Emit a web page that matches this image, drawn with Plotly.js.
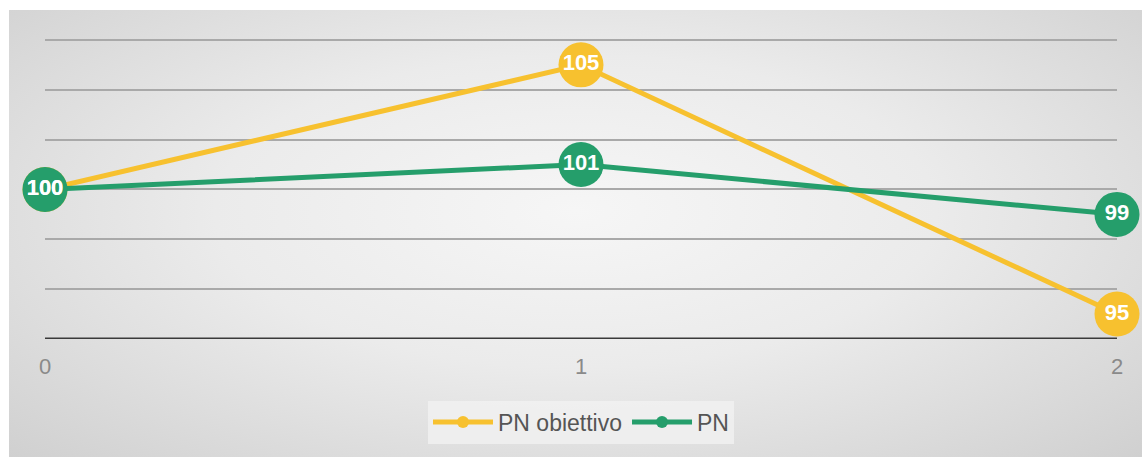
<!DOCTYPE html>
<html>
<head>
<meta charset="utf-8">
<script src="https://cdn.plot.ly/plotly-3.0.1.min.js"></script>
<style>
  html, body { margin:0; padding:0; background:#ffffff; }
  #wrap { position:relative; width:1142px; height:457px; overflow:hidden; }
  #bg { position:absolute; left:9px; top:10px; width:1133px; height:447px;
        background: radial-gradient(ellipse at 50% 45%, #f6f6f6 0%, #ebebeb 45%, #d0d0d0 100%); }
  #chart { position:absolute; left:0; top:0; width:1142px; height:457px; }
</style>
</head>
<body>
<div id="wrap"><div id="bg"></div><div id="chart"></div></div>
<script>
const categories = [0, 1, 2];
const pnObiettivo = [100, 105, 95];
const pn = [100, 101, 99];
const seriesNames = ["PN obiettivo", "PN"];
const xTickLabels = ["0", "1", "2"];

const yellow = "#F7C12F";
const green = "#259E6B";

function lineTrace(name, y, color) {
  return {
    x: categories, y: y, name: name, type: "scatter", mode: "lines+markers",
    line: { color: color, width: 5 },
    marker: { color: color, size: 45, line: { width: 0 } },
    cliponaxis: false, hoverinfo: "skip"
  };
}
function labelTrace(y) {
  return {
    x: categories, y: y, type: "scatter", mode: "text", showlegend: false,
    text: y.map(v => String(v)), textposition: "middle center",
    textfont: { family: "Liberation Sans, Arial, sans-serif", size: 22, color: "#ffffff", weight: "bold" },
    cliponaxis: false, hoverinfo: "skip"
  };
}

const data = [
  lineTrace(seriesNames[0], pnObiettivo, yellow),
  lineTrace(seriesNames[1], pn, green),
  labelTrace(pnObiettivo),
  labelTrace(pn)
];

const layout = {
  width: 1142, height: 457,
  paper_bgcolor: "rgba(0,0,0,0)", plot_bgcolor: "rgba(0,0,0,0)",
  margin: { l: 45, r: 25, t: 15, b: 118 },
  font: { family: "Liberation Sans, Arial, sans-serif", color: "#666666" },
  xaxis: {
    range: [0, 2], tickvals: categories, ticktext: xTickLabels,
    showgrid: false, zeroline: false, showline: false, ticks: "",
    tickfont: { size: 22, color: "#8a8a8a" }, ticklabelstandoff: 12
  },
  yaxis: {
    range: [94, 107], dtick: 2, tick0: 94, showticklabels: false,
    showgrid: true, gridcolor: "#a9a9a9", gridwidth: 2, zeroline: false,
    showline: false, ticks: ""
  },
  shapes: [{
    type: "line", xref: "paper", yref: "y", x0: 0, x1: 1, y0: 94, y1: 94,
    line: { color: "#3a3a3a", width: 3 }
  }],
  showlegend: true,
  legend: {
    orientation: "h", x: 0.5, xanchor: "center", y: -0.19, yanchor: "top",
    bgcolor: "rgba(244,244,244,0.7)", borderwidth: 0,
    font: { size: 23, color: "#555555" }, itemsizing: "constant", itemwidth: 60
  }
};

Plotly.newPlot("chart", data, layout, { staticPlot: true, displayModeBar: false });
</script>
</body>
</html>
